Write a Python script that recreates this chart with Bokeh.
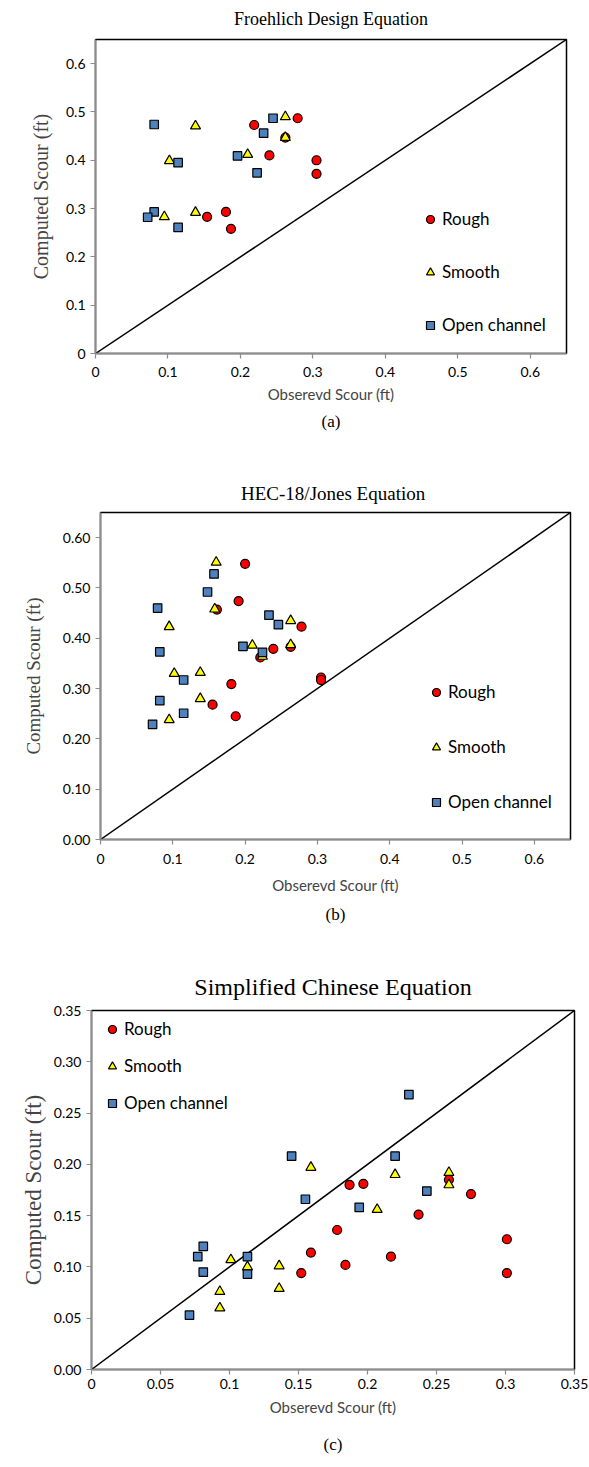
from bokeh.plotting import figure
from bokeh.models import Range1d, FixedTicker, Title
from bokeh.embed import file_html
from bokeh.resources import INLINE

# ---------------- data ----------------
# (a) Froehlich Design Equation
rough_a_x = [0.219, 0.279, 0.262, 0.240, 0.305, 0.305, 0.154, 0.180, 0.187]
rough_a_y = [0.473, 0.487, 0.447, 0.410, 0.400, 0.372, 0.283, 0.293, 0.258]
smooth_a_x = [0.138, 0.262, 0.262, 0.102, 0.210, 0.095, 0.138]
smooth_a_y = [0.471, 0.490, 0.447, 0.399, 0.412, 0.283, 0.292]
open_a_x = [0.081, 0.245, 0.232, 0.114, 0.196, 0.223, 0.081, 0.072, 0.114]
open_a_y = [0.474, 0.487, 0.456, 0.395, 0.409, 0.374, 0.293, 0.282, 0.261]

# (b) HEC-18/Jones Equation
rough_b_x = [0.200, 0.191, 0.161, 0.278, 0.221, 0.239, 0.263, 0.181, 0.305, 0.305, 0.155, 0.187]
rough_b_y = [0.548, 0.474, 0.457, 0.423, 0.362, 0.379, 0.383, 0.309, 0.322, 0.317, 0.268, 0.245]
smooth_b_x = [0.160, 0.158, 0.095, 0.263, 0.210, 0.224, 0.263, 0.102, 0.138, 0.138, 0.095]
smooth_b_y = [0.551, 0.458, 0.423, 0.435, 0.386, 0.364, 0.387, 0.330, 0.332, 0.280, 0.238]
open_b_x = [0.157, 0.148, 0.079, 0.233, 0.246, 0.082, 0.197, 0.224, 0.115, 0.082, 0.115, 0.072]
open_b_y = [0.528, 0.492, 0.460, 0.446, 0.427, 0.373, 0.384, 0.372, 0.317, 0.276, 0.251, 0.229]

# (c) Simplified Chinese Equation
rough_c_x = [0.187, 0.197, 0.178, 0.159, 0.184, 0.152, 0.259, 0.275, 0.237, 0.301, 0.217, 0.301]
rough_c_y = [0.180, 0.181, 0.136, 0.114, 0.102, 0.094, 0.185, 0.171, 0.151, 0.127, 0.110, 0.094]
smooth_c_x = [0.159, 0.101, 0.113, 0.136, 0.093, 0.136, 0.093, 0.220, 0.259, 0.259, 0.207]
smooth_c_y = [0.197, 0.107, 0.100, 0.101, 0.076, 0.079, 0.060, 0.190, 0.192, 0.180, 0.156]
open_c_x = [0.145, 0.155, 0.194, 0.081, 0.077, 0.113, 0.081, 0.113, 0.071, 0.230, 0.220, 0.243]
open_c_y = [0.208, 0.166, 0.158, 0.120, 0.110, 0.110, 0.095, 0.093, 0.053, 0.268, 0.208, 0.174]

series_names = ["Rough", "Smooth", "Open channel"]

ticks_ab_x = [0, 0.1, 0.2, 0.3, 0.4, 0.5, 0.6]
tick_labels_ab_x = ["0", "0.1", "0.2", "0.3", "0.4", "0.5", "0.6"]
ticks_a_y = [0, 0.1, 0.2, 0.3, 0.4, 0.5, 0.6]
tick_labels_a_y = ["0", "0.1", "0.2", "0.3", "0.4", "0.5", "0.6"]
ticks_b_y = [0, 0.1, 0.2, 0.3, 0.4, 0.5, 0.6]
tick_labels_b_y = ["0.00", "0.10", "0.20", "0.30", "0.40", "0.50", "0.60"]
ticks_c = [0, 0.05, 0.1, 0.15, 0.2, 0.25, 0.3, 0.35]
tick_labels_c_x = ["0", "0.05", "0.1", "0.15", "0.2", "0.25", "0.3", "0.35"]
tick_labels_c_y = ["0.00", "0.05", "0.10", "0.15", "0.20", "0.25", "0.30", "0.35"]

axis_max_ab = 0.65
axis_max_c = 0.35
one_to_one_ab = [0, 0.65]
one_to_one_c = [0, 0.35]

titles = ["Froehlich Design Equation", "HEC-18/Jones  Equation", "Simplified Chinese Equation"]
captions = ["(a)", "(b)", "(c)"]
x_label = "Obserevd Scour (ft)"
y_label = "Computed Scour (ft)"

SANS = "Lato"
SERIF = "Liberation Serif"


def make_panel(title, caption, rough, smooth, opn, amax, diag,
               xt, xtl, yt, ytl, width, height, bl, br, bb,
               legend_loc, legend_spacing, title_size, title_standoff,
               ylab_size, ylab_standoff, xtick_standoff, xlab_standoff, cap_standoff):
    p = figure(width=width, height=height, output_backend="svg", toolbar_location=None,
               x_range=Range1d(0, amax), y_range=Range1d(0, amax),
               min_border_left=bl, min_border_right=br, min_border_top=0, min_border_bottom=bb,
               background_fill_color="white", border_fill_color="white")
    p.title = Title(text=title, align="center", vertical_align="top", text_font=SERIF,
                    text_font_size=title_size, text_font_style="normal", text_color="#000000",
                    standoff=title_standoff)
    p.add_layout(Title(text=caption, align="center", text_font=SERIF, text_font_size="17px",
                       text_font_style="normal", text_color="#000000", standoff=cap_standoff),
                 "below")
    p.grid.visible = False
    p.outline_line_color = "#000000"
    p.outline_line_width = 1.5
    p.outline_line_alpha = 1.0

    p.line(diag, diag, line_color="#000000", line_width=1.5)
    p.scatter(rough[0], rough[1], marker="circle", size=9, fill_color="#FF0000",
              line_color="#000000", line_width=1.2, legend_label=series_names[0])
    p.scatter(smooth[0], smooth[1], marker="triangle", size=10, fill_color="#FFFF00",
              line_color="#000000", line_width=1.2, legend_label=series_names[1])
    p.scatter(opn[0], opn[1], marker="square", size=8.5, fill_color="#4F81BD",
              line_color="#000000", line_width=1.2, legend_label=series_names[2])

    for ax, ticks, labels in ((p.xaxis[0], xt, xtl), (p.yaxis[0], yt, ytl)):
        ax.ticker = FixedTicker(ticks=ticks)
        ax.major_label_overrides = {t: l for t, l in zip(ticks, labels)}
        ax.minor_tick_line_color = None
        ax.major_tick_in = 0
        ax.major_tick_out = 5
        ax.axis_line_color = "#8C8C8C"
        ax.axis_line_width = 1.5
        ax.major_tick_line_color = "#8C8C8C"
        ax.major_tick_line_width = 1.2
        ax.major_label_text_font = SANS
        ax.major_label_text_font_size = "14px"
        ax.major_label_text_color = "#000000"
    p.xaxis.major_label_standoff = xtick_standoff
    p.xaxis.axis_label = x_label
    p.xaxis.axis_label_text_font = SANS
    p.xaxis.axis_label_text_font_size = "15px"
    p.xaxis.axis_label_text_font_style = "normal"
    p.xaxis.axis_label_standoff = xlab_standoff
    p.yaxis.axis_label = y_label
    p.yaxis.axis_label_text_font = SERIF
    p.yaxis.axis_label_text_font_size = ylab_size
    p.yaxis.axis_label_text_font_style = "normal"
    p.yaxis.axis_label_standoff = ylab_standoff

    lg = p.legend[0]
    lg.location = legend_loc
    lg.padding = 0
    lg.margin = 0
    lg.spacing = legend_spacing
    lg.glyph_width = 20
    lg.glyph_height = 20
    lg.label_height = 20
    lg.label_standoff = 2
    lg.label_text_font = SANS
    lg.label_text_font_size = "17px"
    lg.label_text_color = "#000000"
    lg.border_line_alpha = 0
    lg.background_fill_alpha = 0
    return p


# frame heights: a 316, b 329, c 360 (title block + frame + bottom border = figure height)
pa = make_panel(titles[0], captions[0], (rough_a_x, rough_a_y), (smooth_a_x, smooth_a_y),
                (open_a_x, open_a_y), axis_max_ab, one_to_one_ab,
                ticks_ab_x, tick_labels_ab_x, ticks_a_y, tick_labels_a_y,
                589, 476, 95, 23, 123, (325, 18), 32,
                "18px", 17, "20px", 11, 8, 5, 9)
pb = make_panel(titles[1], captions[1], (rough_b_x, rough_b_y), (smooth_b_x, smooth_b_y),
                (open_b_x, open_b_y), axis_max_ab, one_to_one_ab,
                ticks_ab_x, tick_labels_ab_x, ticks_b_y, tick_labels_b_y,
                589, 488, 100, 19, 125, (326, 27), 34,
                "19px", 13, "19px", 16, 9, 9, 12)
pc = make_panel(titles[2], captions[2], (rough_c_x, rough_c_y), (smooth_c_x, smooth_c_y),
                (open_c_x, open_c_y), axis_max_c, one_to_one_c,
                ticks_c, tick_labels_c_x, ticks_c, tick_labels_c_y,
                589, 503, 91, 15, 98, (11, 256), 16,
                "24px", 18, "23px", 5, 4, 6, 28)

open("out.html", "w").write(file_html([pa, pb, pc], INLINE))
